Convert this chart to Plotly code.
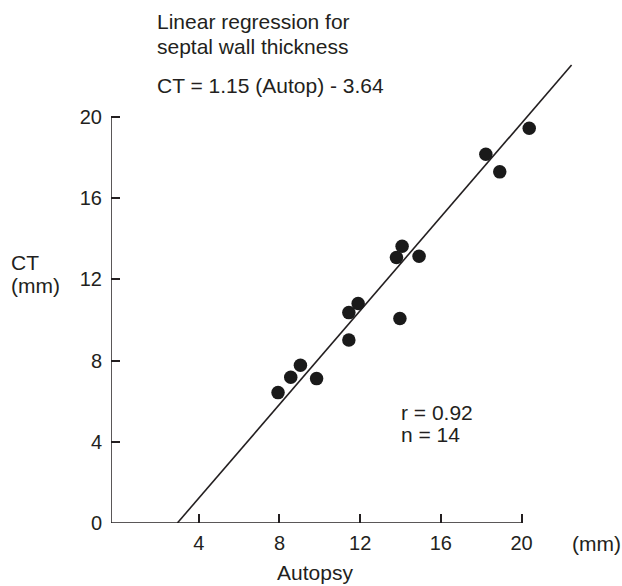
import plotly.graph_objects as go

# Data
autopsy = [7.93, 8.56, 9.04, 9.84, 11.44, 11.44, 11.90, 13.97, 13.80, 14.08, 14.92, 18.23, 18.92, 20.38]
ct = [6.42, 7.18, 7.77, 7.11, 9.01, 10.36, 10.81, 10.07, 13.07, 13.63, 13.14, 18.16, 17.29, 19.44]
line_x = [2.94, 22.48]
line_y = [0.0, 22.55]
x_ticks = [4, 8, 12, 16, 20]
y_ticks = [0, 4, 8, 12, 16, 20]

W, H = 622, 586
ML, MR, MT, MB = 111, 48, 62, 63
PW, PH = W - ML - MR, H - MT - MB
FONT = "Liberation Sans, Arial, sans-serif"
INK = "#231f20"


def px(x):
    return (x - ML) / PW


def py(y):
    return (H - MB - y) / PH


fig = go.Figure()
fig.add_trace(go.Scatter(x=line_x, y=line_y, mode="lines",
                         line=dict(color=INK, width=1.6), hoverinfo="skip"))
fig.add_trace(go.Scatter(x=autopsy, y=ct, mode="markers",
                         marker=dict(color="#1a1a1a", size=13.5, line=dict(width=0))))

# axis lines (limited to 0..20)
fig.add_shape(type="line", xref="x", yref="y", x0=-0.35, x1=20, y0=0, y1=0,
              line=dict(color=INK, width=1.5))
fig.add_shape(type="line", xref="x", yref="y", x0=-0.35, x1=-0.35, y0=0, y1=20,
              line=dict(color=INK, width=1.5))

fig.update_xaxes(range=[-0.35, 22.6], tickvals=x_ticks, ticks="inside", ticklen=9,
                 tickwidth=1.5, tickcolor=INK, showline=False, showgrid=False,
                 zeroline=False, tickfont=dict(size=20, color=INK, family=FONT),
                 ticklabelstandoff=6)
fig.update_yaxes(range=[0, 22.7], tickvals=y_ticks, ticks="inside", ticklen=9,
                 tickwidth=1.5, tickcolor=INK, showline=False, showgrid=False,
                 zeroline=False, tickfont=dict(size=20, color=INK, family=FONT),
                 ticklabelstandoff=8)

ann = [
    ("Linear regression for", 155, 22, "left"),
    ("septal wall thickness", 155, 47, "left"),
    ("CT = 1.15 (Autop) - 3.64", 155, 85, "left"),
    ("r = 0.92", 399, 412, "left"),
    ("n = 14", 399, 434, "left"),
    ("CT", 9, 262, "left"),
    ("(mm)", 9, 285, "left"),
    ("(mm)", 570, 543, "left"),
    ("Autopsy", 315, 572, "center"),
]
for text, x, y, anchor in ann:
    fig.add_annotation(text=text, x=px(x), y=py(y), xref="paper", yref="paper",
                       xanchor=anchor, yanchor="middle", showarrow=False,
                       font=dict(size=21, color=INK, family=FONT))

fig.update_layout(width=W, height=H, margin=dict(l=ML, r=MR, t=MT, b=MB),
                  plot_bgcolor="white", paper_bgcolor="white", showlegend=False)
fig.write_html("out.html")
